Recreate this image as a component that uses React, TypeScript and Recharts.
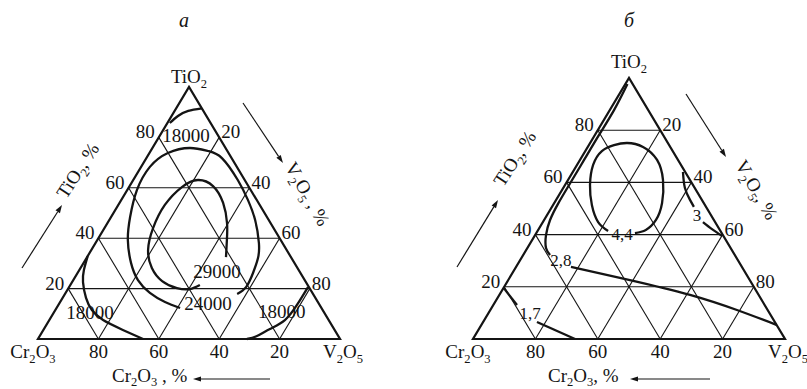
import React from 'react'
import { ScatterChart, Scatter, XAxis, YAxis, ReferenceLine } from 'recharts'

// ternary points are [TiO2 %, V2O5 %], Cr2O3 is the rest
type Pt = [number, number]
type Lbl = { text: string; ti: number; v: number }

const TICKS = [20, 40, 60, 80]

// --- panel а: isolines
const A_ISO_18000_TOP: Pt[] = [[85.7, 0.8], [88.5, 2.1], [90.5, 4.5], [91.5, 8.5]]
const A_ISO_24000: Pt[] = [
  [12.3, 40.9], [14.7, 34.7], [18.3, 27.9], [23.4, 21.4], [30.2, 15.7], [39.3, 10.1],
  [48.4, 6.3], [59.1, 3.2], [68.3, 2.9], [73.8, 6.1], [75.8, 12.4], [74.6, 19.0],
  [71.8, 25.0], [63.1, 34.6], [55.2, 41.9], [47.2, 48.3], [38.1, 54.1], [32.1, 56.8],
  [26.2, 58.1], [20.6, 58.6], [17.9, 57.0],
]
const A_ISO_29000: Pt[] = [
  [32.5, 46.0], [39.3, 42.9], [46.0, 39.6], [54.0, 34.3], [60.7, 27.6], [63.1, 21.4],
  [60.3, 17.5], [53.2, 15.4], [44.0, 16.1], [35.3, 18.8], [28.2, 23.6], [23.0, 29.6],
  [20.2, 35.9], [19.8, 40.4], [21.4, 42.9],
]
const A_ISO_18000_LEFT: Pt[] = [
  [32.9, 0], [27.4, 1.5], [22.6, 3.6], [16.3, 7.75], [11.5, 12.1], [7.5, 17.8], [3.6, 26.3], [0, 34.8],
]
const A_ISO_18000_RIGHT: Pt[] = [[20.6, 79.1], [13.5, 79.0], [7.5, 78.0], [4.0, 74.8], [1.2, 71.9], [0, 69.2]]

const A_LABELS: Lbl[] = [
  { text: '18000', ti: 80.6, v: 8.7 },
  { text: '29000', ti: 26.6, v: 46.0 },
  { text: '24000', ti: 13.9, v: 49.3 },
  { text: '18000', ti: 10.3, v: 12.1 },
  { text: '18000', ti: 10.7, v: 75.4 },
]

// --- panel б
const B_ISO_44: Pt[] = [
  [41.4, 22.6], [44.8, 17.7], [51.3, 12.45], [59.0, 8.0], [66.7, 5.15], [72.0, 5.3],
  [74.3, 8.05], [75.1, 11.85], [73.6, 17.7], [68.6, 24.7], [60.9, 30.45], [52.1, 34.55],
  [45.6, 35.85], [41.8, 34.5], [40.6, 31.6],
]
const B_ISO_3_A: Pt[] = [[64.0, 35.3], [57.85, 39.0], [53.3, 42.9], [50.6, 45.5]]
const B_ISO_3_B: Pt[] = [[44.8, 51.3], [42.1, 55.55], [39.5, 60.05]]
const B_ISO_28_A: Pt[] = [
  [97.7, 0.65], [87.7, 1.35], [78.2, 1.3], [68.6, 1.3], [59.0, 1.3], [51.7, 1.35],
  [45.6, 1.9], [39.8, 3.5], [34.9, 5.95], [32.2, 8.6],
]
const B_ISO_28_B: Pt[] = [[27.6, 17.6], [22.6, 39.0], [16.9, 61.1], [11.1, 79.05], [5.4, 94.6]]
const B_ISO_17_A: Pt[] = [[19.6, 0], [13.0, 7.6]]
const B_ISO_17_B: Pt[] = [[6.5, 17.25], [0, 32.7]]

const B_LABELS: Lbl[] = [
  { text: '4,4', ti: 40.2, v: 27.7 },
  { text: '3', ti: 47.5, v: 48.05 },
  { text: '2,8', ti: 30.3, v: 13.05 },
  { text: '1,7', ti: 10.0, v: 13.3 },
]

const FONT = '"Liberation Serif", "Times New Roman", serif'
const INK = '#141414'

const toXY = ([t, v]: Pt) => ({ x: v + t / 2, y: t })
const lblXY = (l: Lbl) => ({ ...toXY([l.ti, l.v]), text: l.text })

// digits right after a letter become subscripts
function chem(text: string, shift = 5) {
  const segs: { s: string; sub: boolean }[] = []
  for (let i = 0; i < text.length; i++) {
    const c = text[i]
    const sub = /\d/.test(c) && i > 0 && /[A-Za-z]/.test(text[i - 1])
    const last = segs[segs.length - 1]
    if (last && last.sub === sub) last.s += c
    else segs.push({ s: c, sub })
  }
  return segs.map((g, i) => (
    <tspan key={i} dy={g.sub ? shift : i > 0 ? -shift : 0} fontSize={g.sub ? '0.66em' : undefined}>
      {g.s}
    </tspan>
  ))
}

const Empty = () => <g />

const textShape = (anchor: 'start' | 'middle' | 'end', dx: number, dy: number, size = 19) =>
  (p: any) => (
    <text x={p.cx + dx} y={p.cy + dy} textAnchor={anchor} fontFamily={FONT} fontSize={size} fill={INK}>
      {chem(p.payload.text)}
    </text>
  )

type PanelCfg = {
  left: number
  width: number
  margin: { top: number; right: number; bottom: number; left: number }
  apexDy: number
  noTop: boolean
  labelSize: number
}

const PANEL_A: PanelCfg = { left: 0, width: 403, margin: { top: 87, right: 63, bottom: 50, left: 38 }, apexDy: -4, noTop: true, labelSize: 19 }
const PANEL_B: PanelCfg = { left: 403, width: 404, margin: { top: 78, right: 22, bottom: 50, left: 70 }, apexDy: -10, noTop: false, labelSize: 17 }

function Ternary({ cfg, curves, labels }: { cfg: PanelCfg; curves: Pt[][]; labels: Lbl[] }) {
  const segs: [Pt, Pt][] = []
  TICKS.forEach((t) => {
    if (!(cfg.noTop && t === 80)) segs.push([[t, 0], [t, 100 - t]])
    segs.push([[0, t], [100 - t, t]])
    segs.push([[0, 100 - t], [100 - t, 0]])
  })
  const border: Pt[] = [[0, 0], [0, 100], [100, 0]]
  const leftTicks = TICKS.map((t) => ({ ...toXY([t, 0]), text: String(t) }))
  const rightTicks = TICKS.map((v) => ({ ...toXY([100 - v, v]), text: String(v) }))
  const baseTicks = TICKS.map((c) => ({ ...toXY([0, 100 - c]), text: String(c) }))

  return (
    <div style={{ position: 'absolute', left: cfg.left, top: 0 }}>
      <ScatterChart width={cfg.width} height={389} margin={cfg.margin}>
        <XAxis type="number" dataKey="x" domain={[0, 100]} hide />
        <YAxis type="number" dataKey="y" domain={[0, 100]} hide />
        {segs.map(([a, b], i) => (
          <ReferenceLine key={i} segment={[toXY(a), toXY(b)]} stroke={INK} strokeWidth={1.1} />
        ))}
        <Scatter
          data={border.map(toXY)}
          line={{ stroke: INK, strokeWidth: 2.2, fill: 'none' }}
          lineJointType="linearClosed"
          shape={Empty}
          isAnimationActive={false}
        />
        {curves.map((c, i) => (
          <Scatter
            key={'c' + i}
            data={c.map(toXY)}
            line={{ stroke: INK, strokeWidth: 2.3, fill: 'none' }}
            lineJointType="natural"
            shape={Empty}
            isAnimationActive={false}
          />
        ))}
        <Scatter data={leftTicks} shape={textShape('end', -4, 1)} isAnimationActive={false} />
        <Scatter data={rightTicks} shape={textShape('start', 2, 1)} isAnimationActive={false} />
        <Scatter data={baseTicks} shape={textShape('middle', 0, 19)} isAnimationActive={false} />
        <Scatter data={[{ ...toXY([100, 0]), text: 'TiO2' }]} shape={textShape('middle', 0, cfg.apexDy)} isAnimationActive={false} />
        <Scatter data={[{ ...toXY([0, 0]), text: 'Cr2O3' }]} shape={textShape('middle', -5, 19)} isAnimationActive={false} />
        <Scatter data={[{ ...toXY([0, 100]), text: 'V2O5' }]} shape={textShape('middle', 3, 19)} isAnimationActive={false} />
        <Scatter data={labels.map(lblXY)} shape={textShape('middle', 0, 6, cfg.labelSize)} isAnimationActive={false} />
      </ScatterChart>
    </div>
  )
}

function Arrow({ x1, y1, x2, y2 }: { x1: number; y1: number; x2: number; y2: number }) {
  const a = Math.atan2(y2 - y1, x2 - x1)
  const L = 8
  const W = 2.6
  const bx = x2 - L * Math.cos(a)
  const by = y2 - L * Math.sin(a)
  const pts = [
    [x2, y2],
    [bx + W * Math.sin(a), by - W * Math.cos(a)],
    [bx - W * Math.sin(a), by + W * Math.cos(a)],
  ]
  return (
    <g>
      <line x1={x1} y1={y1} x2={bx} y2={by} stroke={INK} strokeWidth={1.2} />
      <polygon points={pts.map((p) => p.join(',')).join(' ')} fill={INK} />
    </g>
  )
}

function RotText({ x, y, angle, text }: { x: number; y: number; angle: number; text: string }) {
  return (
    <text
      transform={`translate(${x},${y}) rotate(${angle})`}
      textAnchor="middle"
      dy={6}
      fontFamily={FONT}
      fontSize={19}
      fill={INK}
    >
      {chem(text)}
    </text>
  )
}

export default function App() {
  return (
    <div style={{ position: 'absolute', left: 0, top: 0, width: 807, height: 389, background: '#fff', overflow: 'hidden' }}>
      <Ternary
        cfg={PANEL_A}
        curves={[A_ISO_18000_TOP, A_ISO_24000, A_ISO_29000, A_ISO_18000_LEFT, A_ISO_18000_RIGHT]}
        labels={A_LABELS}
      />
      <Ternary
        cfg={PANEL_B}
        curves={[B_ISO_44, B_ISO_3_A, B_ISO_3_B, B_ISO_28_A, B_ISO_28_B, B_ISO_17_A, B_ISO_17_B]}
        labels={B_LABELS}
      />
      <svg width={807} height={389} style={{ position: 'absolute', left: 0, top: 0, pointerEvents: 'none' }}>
        <text x={184} y={27} textAnchor="middle" fontFamily={FONT} fontStyle="italic" fontSize={20} fill={INK}>а</text>
        <text x={629} y={27} textAnchor="middle" fontFamily={FONT} fontStyle="italic" fontSize={20} fill={INK}>б</text>

        <RotText x={83} y={174} angle={-57} text="TiO2, %" />
        <Arrow x1={22} y1={268} x2={62} y2={205} />
        <RotText x={302} y={197} angle={60} text="V2O5 , %" />
        <Arrow x1={243} y1={103} x2={283} y2={163} />
        <text x={112} y={382} fontFamily={FONT} fontSize={19} fill={INK}>{chem('Cr2O3 , %', 4)}</text>
        <Arrow x1={270} y1={379} x2={193} y2={379} />

        <RotText x={520} y={162} angle={-57} text="TiO2, %" />
        <Arrow x1={457} y1={267} x2={498} y2={200} />
        <RotText x={751} y={193} angle={60} text="V2O5, %" />
        <Arrow x1={686} y1={94} x2={726} y2={157} />
        <text x={548} y={382} fontFamily={FONT} fontSize={19} fill={INK}>{chem('Cr2O3, %', 4)}</text>
        <Arrow x1={710} y1={379} x2={630} y2={379} />
      </svg>
    </div>
  )
}
